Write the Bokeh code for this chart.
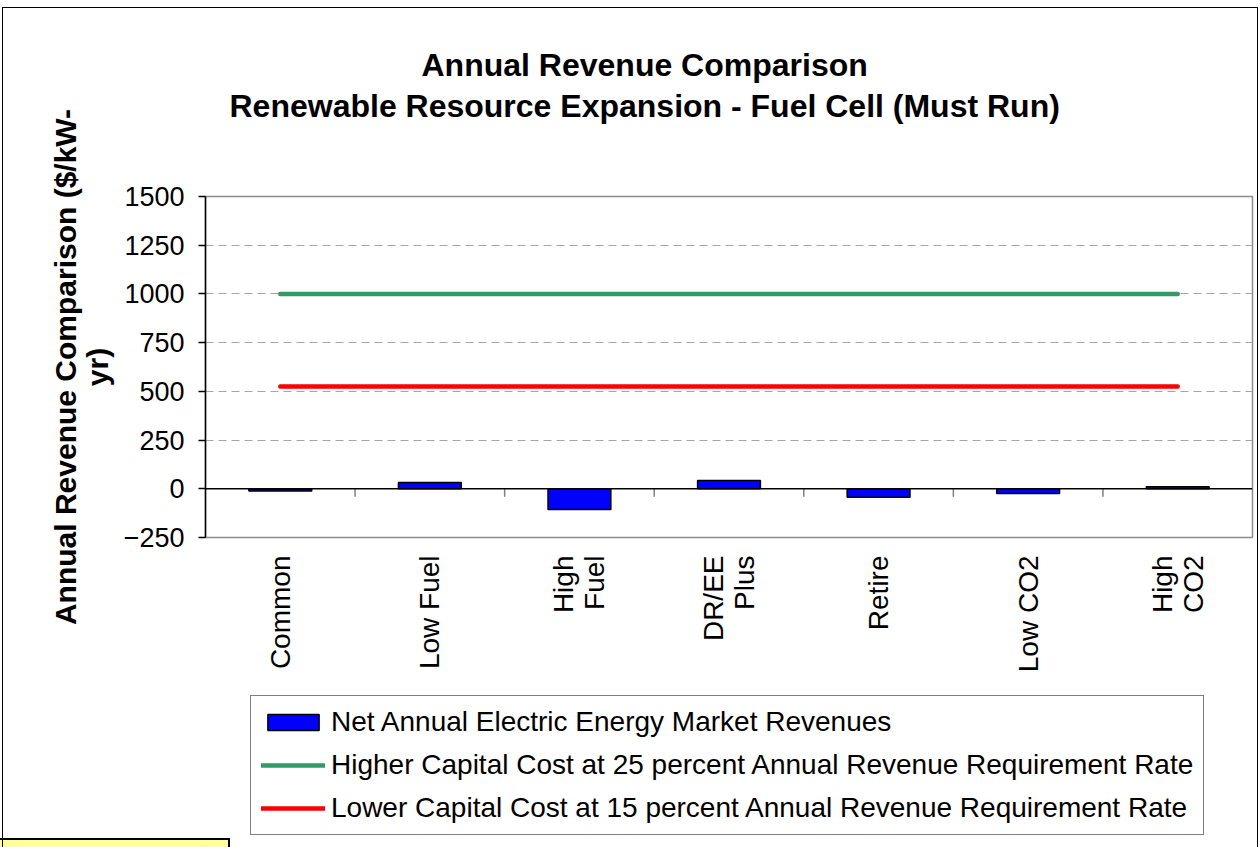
import math
from bokeh.plotting import figure
from bokeh.layouts import column
from bokeh.models import (FactorRange, Range1d, FixedTicker, Span, Legend,
                          LegendItem, ColumnDataSource, Title)
from bokeh.transform import dodge
from bokeh.embed import file_html
from bokeh.resources import INLINE

# ---------------- data ----------------
categories = ["Common", "Low Fuel", "High\nFuel", "DR/EE\nPlus", "Retire", "Low CO2", "High\nCO2"]
net_revenues = [-12, 32, -106, 43, -43, -24, 10]
higher_cost = [1000, 1000, 1000, 1000, 1000, 1000, 1000]
lower_cost = [525, 525, 525, 525, 525, 525, 525]
y_ticks = [-250, 0, 250, 500, 750, 1000, 1250, 1500]
grid_ticks = [250, 500, 750, 1000, 1250]

title_lines = ["Annual Revenue Comparison",
               "Renewable Resource Expansion - Fuel Cell (Must Run)"]
y_label = "Annual Revenue Comparison ($/kW-\nyr)"
legend_labels = ["Net Annual Electric Energy Market Revenues",
                 "Higher Capital Cost at 25 percent Annual Revenue Requirement Rate",
                 "Lower Capital Cost at 15 percent Annual Revenue Requirement Rate"]

# ---------------- styles ----------------
FONT = "Liberation Sans"
BAR_FILL = "#0000FF"
GREEN = "#339966"
RED = "#FF0000"
W = 1258
MAIN_H, LEG_H = 692, 155
TOP, BOTTOM, LEFT, RIGHT = 196, 155, 205, 6
Y_MIN, Y_MAX = -250, 1500

# ---------------- main chart ----------------
p = figure(width=W, height=MAIN_H,
           x_range=FactorRange(factors=categories),
           y_range=Range1d(Y_MIN, Y_MAX),
           output_backend="svg", toolbar_location=None,
           min_border_left=LEFT, min_border_right=RIGHT,
           min_border_top=TOP, min_border_bottom=BOTTOM)
p.border_fill_color = None
p.background_fill_color = "white"
p.outline_line_color = "#8C8C8C"
p.outline_line_width = 1.5

# titles: the first added sits closest to the frame (a blank spacer first)
p.add_layout(Title(text=" ", standoff=60, text_font=FONT, text_font_size="10px"), "above")
p.add_layout(Title(text=title_lines[1], align="left", offset=24, standoff=0,
                   text_font=FONT, text_font_size="32px", text_font_style="bold",
                   text_color="black"), "above")
p.add_layout(Title(text=title_lines[0], align="left", offset=216, standoff=6,
                   text_font=FONT, text_font_size="32px", text_font_style="bold",
                   text_color="black"), "above")

frame_h = MAIN_H - TOP - BOTTOM
px_per_unit = frame_h / (Y_MAX - Y_MIN)

p.xgrid.grid_line_color = None
p.ygrid.ticker = FixedTicker(ticks=grid_ticks)
p.ygrid.grid_line_color = "#A6A6A6"
p.ygrid.grid_line_dash = "8 5"
p.ygrid.grid_line_width = 1

src = ColumnDataSource(dict(cat=categories, val=net_revenues))
p.vbar(x="cat", top="val", bottom=0, width=0.42, source=src,
       fill_color=BAR_FILL, line_color="black", line_width=1.5)

p.add_layout(Span(location=0, dimension="width", line_color="black", line_width=1.5))

tick_units = 8 / px_per_unit
bsrc = ColumnDataSource(dict(b=categories[:-1]))
p.segment(x0=dodge("b", 0.5, range=p.x_range), x1=dodge("b", 0.5, range=p.x_range),
          y0=0, y1=-tick_units, source=bsrc, line_color="#808080", line_width=1.5)

p.line(x=categories, y=higher_cost, line_color=GREEN, line_width=4.5, line_cap="round")
p.line(x=categories, y=lower_cost, line_color=RED, line_width=4.5, line_cap="round")

xa = p.xaxis[0]
xa.major_label_orientation = math.pi / 2
xa.axis_line_color = None
xa.major_tick_line_color = None
xa.minor_tick_line_color = None
xa.major_label_text_font = FONT
xa.major_label_text_font_size = "28px"
xa.major_label_text_color = "black"
xa.major_label_text_line_height = 1.0
xa.major_label_standoff = 12

ya = p.yaxis[0]
ya.ticker = FixedTicker(ticks=y_ticks)
ya.axis_line_color = "black"
ya.axis_line_width = 1.5
ya.major_tick_line_color = "black"
ya.major_tick_line_width = 1.5
ya.major_tick_out = 7
ya.major_tick_in = 0
ya.minor_tick_line_color = None
ya.major_label_text_font = FONT
ya.major_label_text_font_size = "27px"
ya.major_label_text_color = "black"
ya.major_label_standoff = 14
ya.axis_label = y_label
ya.axis_label_text_font = FONT
ya.axis_label_text_font_style = "bold"
ya.axis_label_text_font_size = "30px"
ya.axis_label_text_color = "black"
ya.axis_label_text_line_height = 0.95
ya.axis_label_standoff = 7

# ---------------- legend (own strip below the chart) ----------------
fl = figure(width=W, height=LEG_H, x_range=Range1d(0, 1), y_range=Range1d(0, 1),
            output_backend="svg", toolbar_location=None,
            x_axis_location=None, y_axis_location=None,
            min_border_left=0, min_border_right=0, min_border_top=0, min_border_bottom=0)
fl.grid.visible = False
fl.outline_line_color = None
fl.background_fill_color = None
fl.border_fill_color = None
# key swatches only (placed outside the visible range of this strip)
key_bar = ColumnDataSource(dict(x=[-5], top=[-5]))
key_line = ColumnDataSource(dict(x=[-6, -5], y=[-5, -5]))
lb = fl.vbar(x="x", top="top", width=1, source=key_bar,
             fill_color=BAR_FILL, line_color="black", line_width=1.5)
lg = fl.line(x="x", y="y", source=key_line, line_color=GREEN, line_width=4.5, line_cap="round")
lr = fl.line(x="x", y="y", source=key_line, line_color=RED, line_width=4.5, line_cap="round")
legend = Legend(items=[LegendItem(label=legend_labels[0], renderers=[lb]),
                       LegendItem(label=legend_labels[1], renderers=[lg]),
                       LegendItem(label=legend_labels[2], renderers=[lr])],
                location=(45, 12), orientation="vertical",
                border_line_color="black", border_line_width=1,
                background_fill_color="white", background_fill_alpha=1,
                label_text_font=FONT, label_text_font_size="28px", label_text_color="black",
                glyph_width=64, glyph_height=20, label_height=32, spacing=11,
                padding=10, label_standoff=6, margin=0)
fl.add_layout(legend)

# ---------------- page ----------------
bg_layers = [
    "linear-gradient(#000,#000) 2px 7px / 1256px 1px no-repeat",
    "linear-gradient(#000,#000) 2px 7px / 1px 840px no-repeat",
    "linear-gradient(#000,#000) 1257px 7px / 1px 840px no-repeat",
    "linear-gradient(#000,#000) 0px 838px / 230px 2px no-repeat",
    "linear-gradient(#000,#000) 228px 838px / 2px 9px no-repeat",
    "linear-gradient(#FFFF99,#FFFF99) 0px 838px / 229px 9px no-repeat",
    "#FFFFFF",
]
layout = column(p, fl, spacing=0)
layout.styles = {"background": ", ".join(bg_layers)}

open("out.html", "w").write(file_html(layout, INLINE))
